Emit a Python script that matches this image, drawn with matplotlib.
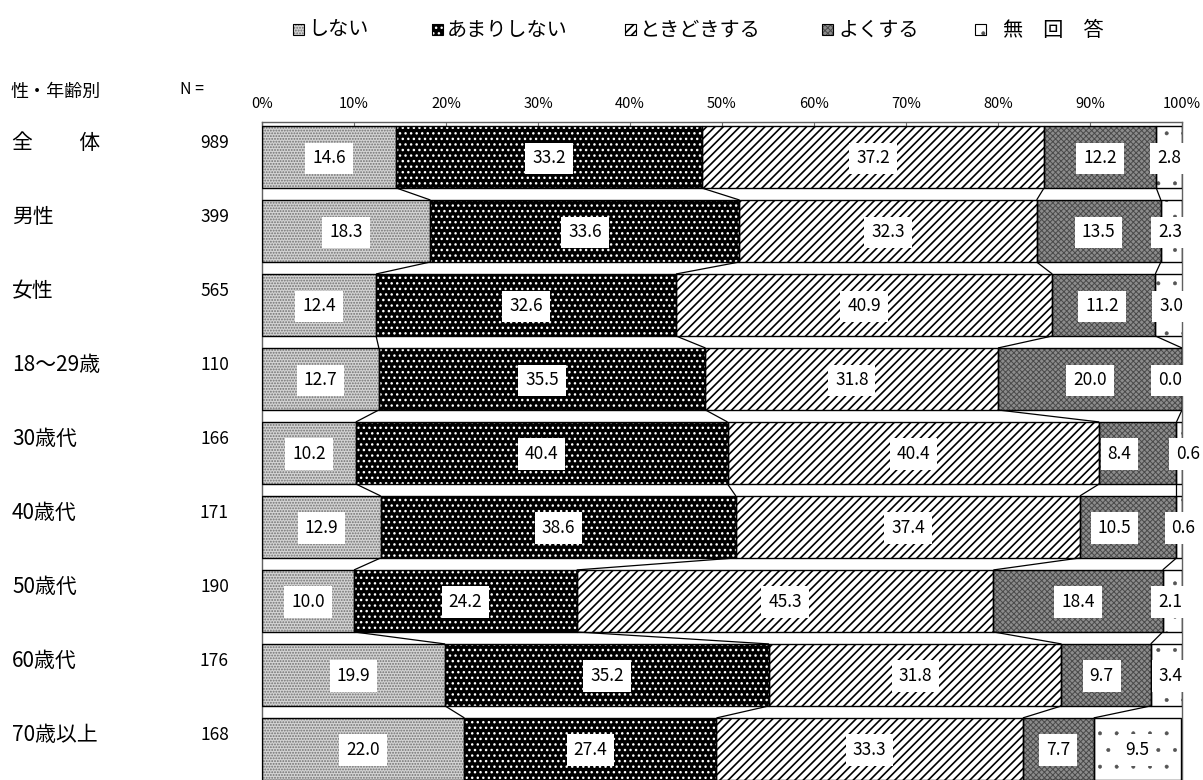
import matplotlib
matplotlib.use("Agg")
import matplotlib.pyplot as plt
from matplotlib.patches import Rectangle
import numpy as np

plt.rcParams['font.family'] = ['Noto Sans CJK JP', 'DejaVu Sans']
plt.rcParams['hatch.linewidth'] = 0.8

# ---------------- data ----------------
groups = ["全　　 体", "男性", "女性", "18～29歳", "30歳代", "40歳代", "50歳代", "60歳代", "70歳以上"]
n_values = [989, 399, 565, 110, 166, 171, 190, 176, 168]
series_names = ["しない", "あまりしない", "ときどきする", "よくする", "無　回　答"]
shinai = [14.6, 18.3, 12.4, 12.7, 10.2, 12.9, 10.0, 19.9, 22.0]
amari = [33.2, 33.6, 32.6, 35.5, 40.4, 38.6, 24.2, 35.2, 27.4]
tokidoki = [37.2, 32.3, 40.9, 31.8, 40.4, 37.4, 45.3, 31.8, 33.3]
yoku = [12.2, 13.5, 11.2, 20.0, 8.4, 10.5, 18.4, 9.7, 7.7]
mukaitou = [2.8, 2.3, 3.0, 0.0, 0.6, 0.6, 2.1, 3.4, 9.5]
xticks = [0, 10, 20, 30, 40, 50, 60, 70, 80, 90, 100]
xtick_labels = [f"{t}%" for t in xticks]

series = [shinai, amari, tokidoki, yoku, mukaitou]
# styles: facecolor, hatch color, hatch, hatch linewidth
styles = [
    ("#d4d4d4", "#707070", "......", 0.9),
    ("#000000", "#ffffff", "...", 1.0),
    ("#ffffff", "#000000", "////", 1.2),
    ("#8c8c8c", "#4a4a4a", "xxxxxx", 0.7),
    ("#ffffff", "#555555", ".", 0.4),
]

W, H = 1203, 780
fig = plt.figure(figsize=(W / 100, H / 100), dpi=100)
ax = fig.add_axes([262 / W, 0.0, (1182 - 262) / W, (H - 122) / H])

y = np.arange(len(groups))
bh = 0.838
data = np.array(series)
cum = np.vstack([np.zeros(len(groups)), np.cumsum(data, axis=0)])

for k, vals in enumerate(series):
    fc, hc, hatch, hlw = styles[k]
    left = cum[k]
    with plt.rc_context({'hatch.linewidth': hlw}):
        ax.barh(y, vals, left=left, height=bh, color=fc, edgecolor=hc,
                hatch=hatch, linewidth=0, zorder=2)
    ax.barh(y, vals, left=left, height=bh, fill=False, edgecolor="black",
            linewidth=1.0, zorder=3)

# series connector lines
for i in range(len(groups) - 1):
    for k in range(1, len(series)):
        ax.plot([cum[k][i], cum[k][i + 1]], [i + bh / 2, i + 1 - bh / 2],
                color="black", lw=0.9, zorder=3, solid_capstyle="butt")

# value labels
for i in range(len(groups)):
    centers = [(cum[k][i] + cum[k + 1][i]) / 2 for k in range(len(series))]
    centers[-1] = min(centers[-1], 98.7)
    for k in range(len(series) - 1, 0, -1):
        gap = centers[k] - centers[k - 1]
        if gap < 7.5:
            sh = (7.5 - gap) / 2
            centers[k - 1] -= sh
            centers[k] += sh
    for k in range(len(series)):
        ax.text(centers[k], i + 0.02, f"{series[k][i]:.1f}", ha="center", va="center",
                fontsize=12.5, zorder=5, clip_on=False,
                bbox=dict(boxstyle="square,pad=0.4", fc="white", ec="none"))

ax.set_xlim(0, 100)
ax.set_ylim(8.42, -0.473)
ax.set_xticks(xticks)
ax.set_xticklabels(xtick_labels, fontsize=10.5)
ax.xaxis.tick_top()
ax.tick_params(axis="x", direction="in", length=4, color="#707070", pad=8)
ax.set_yticks([])
for s in ["top", "left", "right"]:
    ax.spines[s].set_color("#606060")
    ax.spines[s].set_linewidth(1.0)
ax.spines["bottom"].set_visible(False)

# left labels
for i, (g, n) in enumerate(zip(groups, n_values)):
    yy = ax.transData.transform((0, i - 0.19))[1] / H
    fig.text(12 / W, yy, g, fontsize=15, ha="left", va="center")
    fig.text(229 / W, yy, str(n), fontsize=12.5, ha="right", va="center")

fig.text(10 / W, 1 - 92 / H, "性・年齢別", fontsize=13, ha="left", va="center")
fig.text(180 / W, 1 - 90 / H, "N =", fontsize=11.5, ha="left", va="center")

# legend (manual)
leg_x = [293, 432, 625, 822, 975]
txt_off = [15, 15, 15, 16, 28]
ly = 29
for k, name in enumerate(series_names):
    fc, hc, hatch, hlw = styles[k]
    x0 = leg_x[k]
    with plt.rc_context({'hatch.linewidth': hlw}):
        r = Rectangle((x0 / W, 1 - (ly + 5.5) / H), 11 / W, 11 / H, transform=fig.transFigure,
                      facecolor=fc, edgecolor=hc, hatch=hatch, linewidth=0)
    fig.add_artist(r)
    r2 = Rectangle((x0 / W, 1 - (ly + 5.5) / H), 11 / W, 11 / H, transform=fig.transFigure,
                   fill=False, edgecolor="black", linewidth=0.8)
    fig.add_artist(r2)
    fig.text((x0 + txt_off[k]) / W, 1 - (ly + 1) / H, name, fontsize=14.5, ha="left", va="center")

fig.savefig("out.png", dpi=100)
